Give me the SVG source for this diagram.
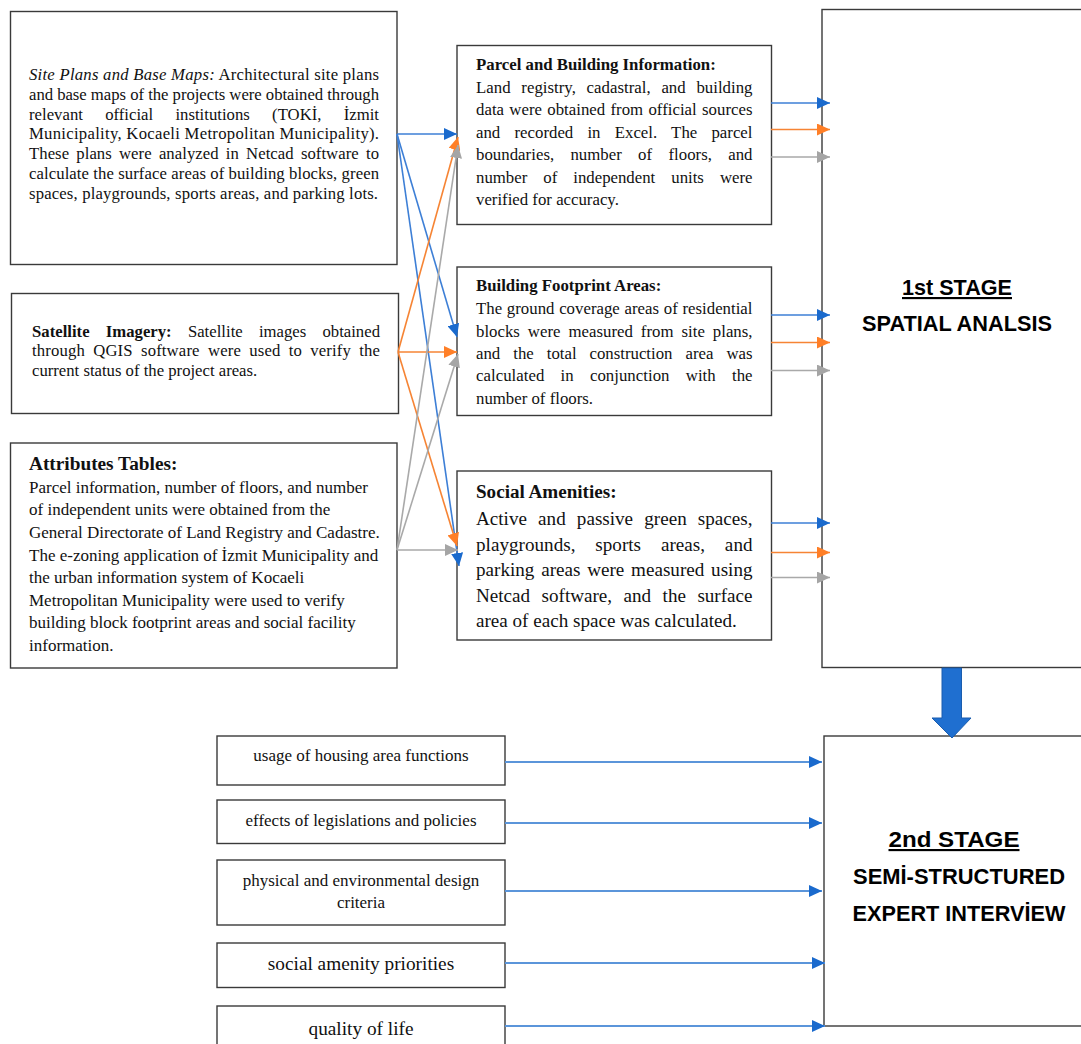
<svg xmlns="http://www.w3.org/2000/svg" width="1081" height="1044" viewBox="0 0 1081 1044">
<style>
.box{fill:#fff;stroke:#3a3a3a;stroke-width:1.4}
.t{font-family:"Liberation Serif","Times New Roman",serif;fill:#111}
.b{font-weight:bold}
.stg{font-family:"Liberation Sans",Arial,sans-serif;font-weight:bold;font-size:21.5px;fill:#000;text-anchor:middle}
.lb{stroke:#3D7FD6;stroke-width:1.6;fill:none}
.lo{stroke:#F68434;stroke-width:1.6;fill:none}
.lg{stroke:#A9A9A9;stroke-width:1.6;fill:none}
.lb2{stroke:#5B95DA;stroke-width:1.8;fill:none}
</style>
<defs>
<marker id="mb" markerUnits="userSpaceOnUse" markerWidth="14" markerHeight="12" refX="13" refY="6" orient="auto"><path d="M0,0 L13,6 L0,12 z" fill="#1A6ACD"/></marker>
<marker id="mo" markerUnits="userSpaceOnUse" markerWidth="14" markerHeight="12" refX="13" refY="6" orient="auto"><path d="M0,0 L13,6 L0,12 z" fill="#FF7F27"/></marker>
<marker id="mg" markerUnits="userSpaceOnUse" markerWidth="14" markerHeight="12" refX="13" refY="6" orient="auto"><path d="M0,0 L13,6 L0,12 z" fill="#A5A5A5"/></marker>
</defs>
<rect width="1081" height="1044" fill="#fff"/>

<g id="site-plans">
<rect class="box" x="10.5" y="11.5" width="386.5" height="253"/>
<g class="t" font-size="16.7">
<text x="29" y="80" textLength="350" lengthAdjust="spacing"><tspan font-style="italic">Site Plans and Base Maps:</tspan> Architectural site plans</text>
<text x="29" y="100" textLength="350" lengthAdjust="spacing">and base maps of the projects were obtained through</text>
<text x="29" y="119.5" word-spacing="18" textLength="350" lengthAdjust="spacing">relevant official institutions (TOKİ, İzmit</text>
<text x="29" y="139.3" textLength="350" lengthAdjust="spacing">Municipality, Kocaeli Metropolitan Municipality).</text>
<text x="29" y="159" word-spacing="3" textLength="350" lengthAdjust="spacing">These plans were analyzed in Netcad software to</text>
<text x="29" y="179" textLength="350" lengthAdjust="spacing">calculate the surface areas of building blocks, green</text>
<text x="29" y="199" textLength="349" lengthAdjust="spacing">spaces, playgrounds, sports areas, and parking lots.</text>
</g>
</g>

<g id="satellite">
<rect class="box" x="11.5" y="293.5" width="387" height="120"/>
<g class="t" font-size="16.7">
<text x="32" y="336.5" word-spacing="12" textLength="348" lengthAdjust="spacing"><tspan class="b">Satellite Imagery:</tspan> Satellite images obtained</text>
<text x="32" y="356" word-spacing="4" textLength="348" lengthAdjust="spacing">through QGIS software were used to verify the</text>
<text x="32" y="375.7">current status of the project areas.</text>
</g>
</g>

<g id="attributes">
<rect class="box" x="10.5" y="443" width="386.5" height="225"/>
<g class="t" font-size="17">
<text x="29" y="470" class="b" font-size="19.3">Attributes Tables:</text>
<text x="29" y="492.7">Parcel information, number of floors, and number</text>
<text x="29" y="515.3">of independent units were obtained from the</text>
<text x="29" y="537.9">General Directorate of Land Registry and Cadastre.</text>
<text x="29" y="560.5">The e-zoning application of İzmit Municipality and</text>
<text x="29" y="583.1">the urban information system of Kocaeli</text>
<text x="29" y="605.7">Metropolitan Municipality were used to verify</text>
<text x="29" y="628.3">building block footprint areas and social facility</text>
<text x="29" y="650.9">information.</text>
</g>
</g>

<g id="parcel-info">
<rect class="box" x="457" y="45.5" width="314.5" height="179"/>
<g class="t" font-size="16.8">
<text x="476" y="70" class="b">Parcel and Building Information:</text>
<text x="476" y="92.7" word-spacing="6.5" textLength="276.5" lengthAdjust="spacing">Land registry, cadastral, and building</text>
<text x="476" y="115" word-spacing="1" textLength="276.5" lengthAdjust="spacing">data were obtained from official sources</text>
<text x="476" y="137.5" word-spacing="10" textLength="276.5" lengthAdjust="spacing">and recorded in Excel. The parcel</text>
<text x="476" y="160" word-spacing="12" textLength="276.5" lengthAdjust="spacing">boundaries, number of floors, and</text>
<text x="476" y="182.5" word-spacing="11.8" textLength="276.5" lengthAdjust="spacing">number of independent units were</text>
<text x="476" y="205">verified for accuracy.</text>
</g>
</g>

<g id="footprint">
<rect class="box" x="457" y="267" width="314.5" height="148.5"/>
<g class="t" font-size="16.8">
<text x="476" y="290.7" class="b">Building Footprint Areas:</text>
<text x="476" y="314" word-spacing="0.5" textLength="276.5" lengthAdjust="spacing">The ground coverage areas of residential</text>
<text x="476" y="336.5" word-spacing="3.8" textLength="276.5" lengthAdjust="spacing">blocks were measured from site plans,</text>
<text x="476" y="359" word-spacing="8.8" textLength="276.5" lengthAdjust="spacing">and the total construction area was</text>
<text x="476" y="381.3" word-spacing="12" textLength="276.5" lengthAdjust="spacing">calculated in conjunction with the</text>
<text x="476" y="404">number of floors.</text>
</g>
</g>

<g id="amenities">
<rect class="box" x="457" y="471" width="314.5" height="169"/>
<g class="t" font-size="19.1">
<text x="476" y="498.3" class="b">Social Amenities:</text>
<text x="476" y="525" word-spacing="6.4" textLength="276.5" lengthAdjust="spacing">Active and passive green spaces,</text>
<text x="476" y="550.7" word-spacing="15" textLength="276.5" lengthAdjust="spacing">playgrounds, sports areas, and</text>
<text x="476" y="576" word-spacing="2" textLength="276.5" lengthAdjust="spacing">parking areas were measured using</text>
<text x="476" y="601.7" word-spacing="6.7" textLength="276.5" lengthAdjust="spacing">Netcad software, and the surface</text>
<text x="476" y="626.7">area of each space was calculated.</text>
</g>
</g>

<g id="stage1">
<rect class="box" x="822" y="9.5" width="280" height="658"/>
<text class="stg" x="957" y="295" text-decoration="underline" textLength="110" lengthAdjust="spacingAndGlyphs">1st STAGE</text>
<text class="stg" x="957" y="330.5" textLength="190" lengthAdjust="spacingAndGlyphs">SPATIAL ANALSIS</text>
</g>

<g id="stage2">
<rect class="box" x="824" y="736" width="280" height="290"/>
<text class="stg" x="954" y="847" text-decoration="underline" textLength="131" lengthAdjust="spacingAndGlyphs">2nd STAGE</text>
<text class="stg" x="959" y="883.5" textLength="212" lengthAdjust="spacingAndGlyphs">SEMİ-STRUCTURED</text>
<text class="stg" x="959" y="921" textLength="213" lengthAdjust="spacingAndGlyphs">EXPERT INTERVİEW</text>
</g>

<g id="c-usage">
<rect class="box" x="217" y="736" width="288" height="49"/>
<text class="t" x="361" y="761" font-size="17" text-anchor="middle">usage of housing area functions</text>
</g>
<g id="c-legislation">
<rect class="box" x="217" y="800" width="288" height="43.5"/>
<text class="t" x="361" y="826" font-size="17" text-anchor="middle">effects of legislations and policies</text>
</g>
<g id="c-design">
<rect class="box" x="217" y="860" width="288" height="65"/>
<text class="t" x="361" y="885.7" font-size="17" text-anchor="middle">physical and environmental design</text>
<text class="t" x="361" y="908.3" font-size="17" text-anchor="middle">criteria</text>
</g>
<g id="c-amenity">
<rect class="box" x="217" y="943" width="288" height="44.5"/>
<text class="t" x="361" y="970" font-size="19.3" text-anchor="middle">social amenity priorities</text>
</g>
<g id="c-quality">
<rect class="box" x="217" y="1006" width="288" height="50"/>
<text class="t" x="361" y="1035" font-size="19.3" text-anchor="middle">quality of life</text>
</g>

<g id="connectors">
<!-- sources to middle boxes -->
<line class="lb" x1="397" y1="134" x2="457" y2="134" marker-end="url(#mb)"/>
<line class="lb" x1="397" y1="134" x2="457" y2="337" marker-end="url(#mb)"/>
<line class="lb" x1="397" y1="134" x2="459" y2="566" marker-end="url(#mb)"/>
<line class="lo" x1="398" y1="352" x2="457" y2="352" marker-end="url(#mo)"/>
<line class="lo" x1="398" y1="352" x2="458" y2="137" marker-end="url(#mo)"/>
<line class="lo" x1="398" y1="352" x2="457" y2="546" marker-end="url(#mo)"/>
<line class="lg" x1="397" y1="550" x2="458" y2="550" marker-end="url(#mg)"/>
<line class="lg" x1="397" y1="550" x2="458" y2="145" marker-end="url(#mg)"/>
<line class="lg" x1="397" y1="550" x2="458" y2="354" marker-end="url(#mg)"/>
<!-- middle boxes to stage 1 -->
<line class="lb" x1="771" y1="103" x2="830" y2="103" marker-end="url(#mb)"/>
<line class="lo" x1="771" y1="129.5" x2="830" y2="129.5" marker-end="url(#mo)"/>
<line class="lg" x1="771" y1="157" x2="830" y2="157" marker-end="url(#mg)"/>
<line class="lb" x1="771" y1="315" x2="830" y2="315" marker-end="url(#mb)"/>
<line class="lo" x1="771" y1="342.5" x2="830" y2="342.5" marker-end="url(#mo)"/>
<line class="lg" x1="771" y1="370.5" x2="830" y2="370.5" marker-end="url(#mg)"/>
<line class="lb" x1="771" y1="523" x2="830" y2="523" marker-end="url(#mb)"/>
<line class="lo" x1="771" y1="552.5" x2="830" y2="552.5" marker-end="url(#mo)"/>
<line class="lg" x1="771" y1="577.5" x2="830" y2="577.5" marker-end="url(#mg)"/>
<!-- stage 1 to stage 2 -->
<path d="M942,668 L961.5,668 L961.5,718 L971,718 L952,738 L932,718 L942,718 z" fill="#1F6FD0" stroke="#1A5DAE" stroke-width="1"/>
<!-- criteria to stage 2 -->
<line class="lb2" x1="505" y1="762" x2="822" y2="762" marker-end="url(#mb)"/>
<line class="lb2" x1="505" y1="823" x2="822" y2="823" marker-end="url(#mb)"/>
<line class="lb2" x1="505" y1="891" x2="822" y2="891" marker-end="url(#mb)"/>
<line class="lb2" x1="505" y1="963" x2="825" y2="963" marker-end="url(#mb)"/>
<line class="lb2" x1="505" y1="1026" x2="825" y2="1026" marker-end="url(#mb)"/>
</g>
</svg>
